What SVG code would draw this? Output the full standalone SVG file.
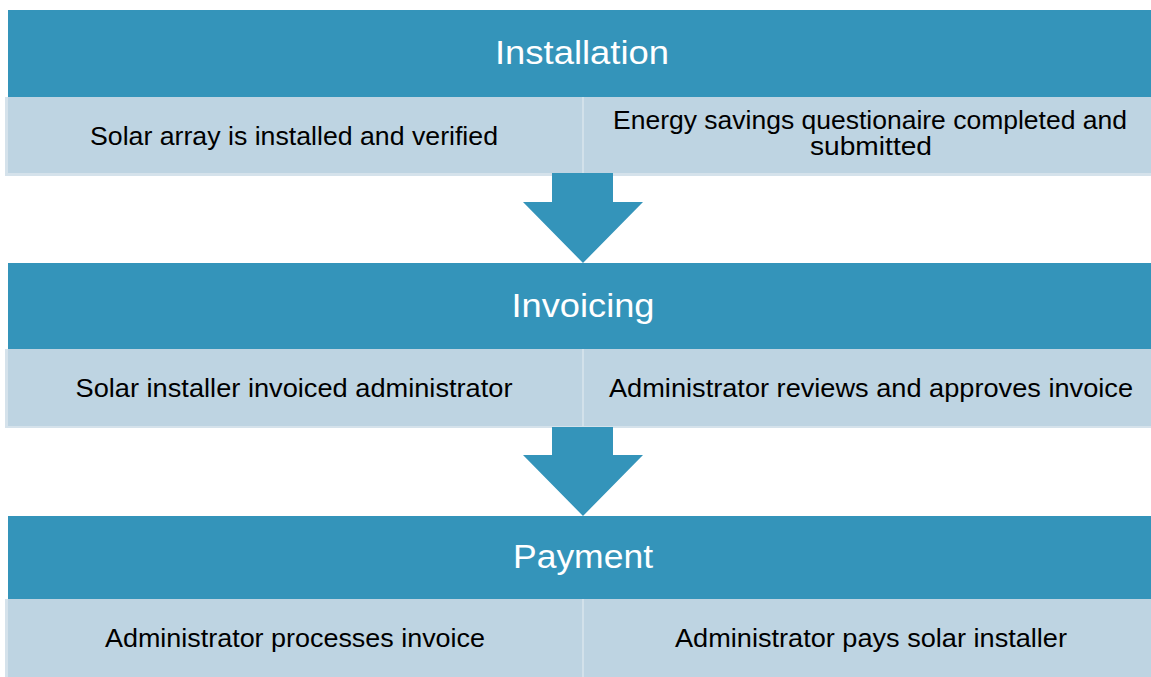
<svg xmlns="http://www.w3.org/2000/svg" width="1151" height="677" viewBox="0 0 1151 677">
  <style>
    .hdr { fill: #3494BA; }
    .body { fill: #BED4E2; }
    .edge { fill: #D5E2EB; }
    .div { stroke: #D2E1EA; stroke-width: 2; }
    .arrow { fill: #3494BA; }
    .title { font-family: "Liberation Sans", Arial, sans-serif; font-size: 34px; fill: #FFFFFF; text-anchor: middle; }
    .item { font-family: "Liberation Sans", Arial, sans-serif; font-size: 25px; fill: #000000; text-anchor: middle; }
  </style>

  <rect width="1151" height="677" fill="#FFFFFF"/>

  <!-- Stage 1: Installation -->
  <g id="installation">
    <rect class="edge" x="5" y="97" width="1146" height="79"/>
    <rect class="body" x="8" y="97" width="1143" height="76"/>
    <rect class="hdr" x="8" y="10" width="1143" height="87"/>
    <line class="div" x1="583" y1="97" x2="583" y2="173"/>
    <text class="title" x="582" y="64" textLength="174" lengthAdjust="spacingAndGlyphs">Installation</text>
    <text class="item" x="294" y="145" textLength="408" lengthAdjust="spacingAndGlyphs">Solar array is installed and verified</text>
    <text class="item" x="870" y="129" textLength="514" lengthAdjust="spacingAndGlyphs">Energy savings questionaire completed and</text>
    <text class="item" x="871" y="155" textLength="122" lengthAdjust="spacingAndGlyphs">submitted</text>
  </g>

  <!-- Stage 2: Invoicing -->
  <g id="invoicing">
    <rect class="edge" x="5" y="349" width="1146" height="79"/>
    <rect class="body" x="8" y="349" width="1143" height="77"/>
    <rect class="hdr" x="8" y="263" width="1143" height="86"/>
    <line class="div" x1="583" y1="349" x2="583" y2="426"/>
    <text class="title" x="583" y="317" textLength="143" lengthAdjust="spacingAndGlyphs">Invoicing</text>
    <text class="item" x="294" y="397" textLength="437" lengthAdjust="spacingAndGlyphs">Solar installer invoiced administrator</text>
    <text class="item" x="871" y="397" textLength="524" lengthAdjust="spacingAndGlyphs">Administrator reviews and approves invoice</text>
  </g>

  <!-- Stage 3: Payment -->
  <g id="payment">
    <rect class="edge" x="5" y="599" width="1146" height="78"/>
    <rect class="body" x="8" y="599" width="1143" height="78"/>
    <rect class="hdr" x="8" y="516" width="1143" height="83"/>
    <line class="div" x1="583" y1="599" x2="583" y2="677"/>
    <text class="title" x="583" y="568" textLength="140" lengthAdjust="spacingAndGlyphs">Payment</text>
    <text class="item" x="295" y="647" textLength="380" lengthAdjust="spacingAndGlyphs">Administrator processes invoice</text>
    <text class="item" x="871" y="647" textLength="392" lengthAdjust="spacingAndGlyphs">Administrator pays solar installer</text>
  </g>

  <!-- Down arrows between stages -->
  <g id="connectors">
    <polygon class="arrow" points="552,173 613,173 613,202 643,202 583,263 523,202 552,202"/>
    <polygon class="arrow" points="552,427 613,427 613,455 643,455 583,516 523,455 552,455"/>
  </g>
</svg>
